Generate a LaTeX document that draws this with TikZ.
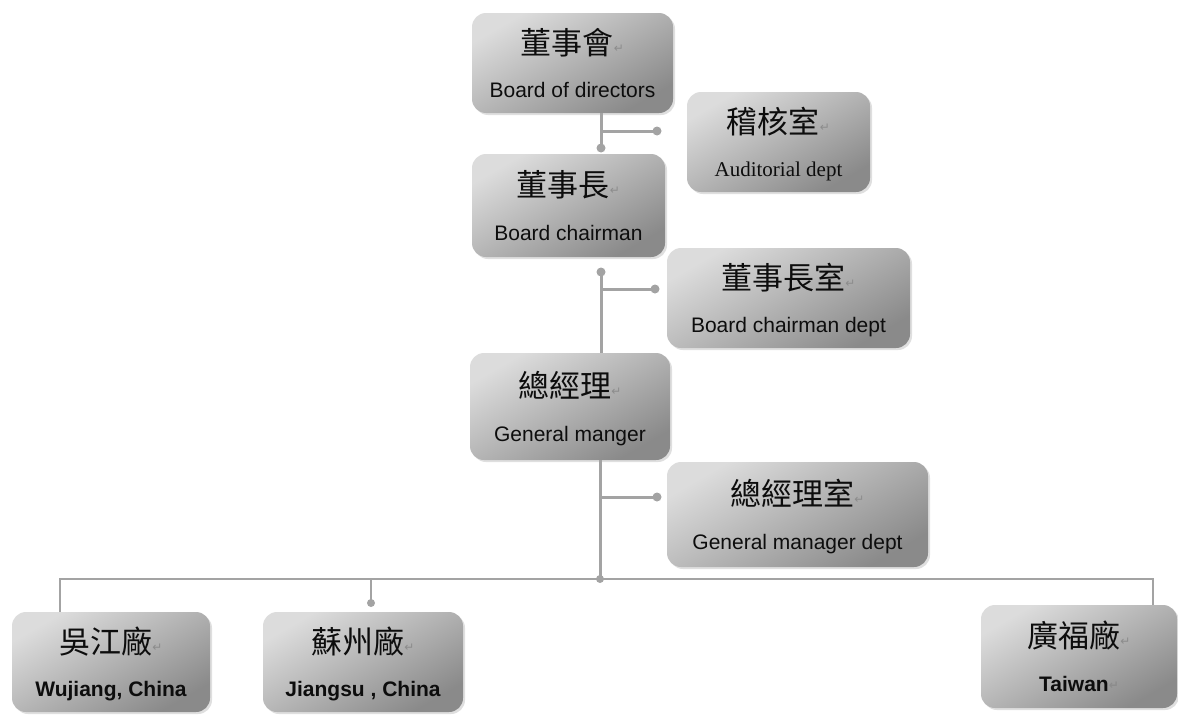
\documentclass[tikz,border=0pt]{standalone}
\usepackage{fontspec}
\setmainfont{Liberation Sans}
\newfontfamily\zhfont{Noto Sans CJK TC}
\newfontfamily\serfont{Liberation Serif}
\newfontfamily\symfont{DejaVu Sans}
\usetikzlibrary{shadows}
\definecolor{linegray}{HTML}{A3A3A3}
\definecolor{boxlight}{HTML}{DCDCDC}
\definecolor{boxdark}{HTML}{8A8A8A}
\newcommand{\retmark}{{\symfont\fontsize{12}{12}\selectfont\color{black!45}\raisebox{2pt}{↵}}}
\newcommand{\zhline}[1]{{\zhfont\fontsize{31}{43.5}\selectfont\rule{0pt}{30pt}#1}\retmark}
\newcommand{\enline}[1]{#1\rule[-4.5pt]{0pt}{4.5pt}}
\begin{document}
\begin{tikzpicture}[x=1pt,y=-1pt,
  box/.style={rounded corners=14pt, top color=boxlight, bottom color=boxdark,
    shading angle=30, align=center, inner sep=0pt, text=black!95,
    font=\fontsize{21}{43.5}\selectfont,
    drop shadow={shadow xshift=2pt, shadow yshift=-2pt, opacity=0.25}},
  conn/.style={draw=linegray, line width=3pt},
  thinconn/.style={draw=linegray, line width=2pt},
  jdot/.style={circle, fill=linegray, inner sep=0pt, minimum size=9pt}]
\useasboundingbox (0,0) rectangle (1178,715);

% boxes
\node[box, minimum width=201pt, minimum height=100pt] (bod) at (572.5,63)
  {\zhline{董事會}\\\enline{Board of directors}};
\node[box, minimum width=183pt, minimum height=100pt] (aud) at (778.5,142)
  {\zhline{稽核室}\\\enline{\serfont Auditorial dept}};
\node[box, minimum width=193pt, minimum height=103pt] (bch) at (568.5,205.5)
  {\zhline{董事長}\\\enline{Board chairman}};
\node[box, minimum width=243pt, minimum height=100pt] (bcd) at (788.5,298)
  {\zhline{董事長室}\\\enline{Board chairman dept}};
\node[box, minimum width=200pt, minimum height=107pt] (gm) at (570,406.5)
  {\zhline{總經理}\\\enline{General manger}};
\node[box, minimum width=261pt, minimum height=105pt] (gmd) at (797.5,514.5)
  {\zhline{總經理室}\\\enline{General manager dept}};
\node[box, minimum width=198pt, minimum height=100pt] (wj) at (111,662)
  {\zhline{吳江廠}\\\enline{\bfseries Wujiang, China}};
\node[box, minimum width=200pt, minimum height=100pt] (js) at (363,662)
  {\zhline{蘇州廠}\\\enline{\bfseries Jiangsu , China}};
\node[box, minimum width=196pt, minimum height=103pt] (tw) at (1079,656.5)
  {\zhline{廣福廠}\\\enline{\bfseries Taiwan\retmark}};

% junction coordinates
\coordinate (j1) at (601,148);
\coordinate (h1) at (657,131);
\coordinate (j2) at (601,272);
\coordinate (h2) at (655,289);
\coordinate (j3) at (600,579);
\coordinate (h3) at (657,497);
\coordinate (bl) at (60,579);
\coordinate (br) at (1153,579);
\coordinate (jd) at (371,603);

% connectors
\draw[conn] (bod.south -| j1) -- (j1);
\draw[conn] (j1 |- h1) -- (h1);
\draw[conn] (j2) -- (gm.north -| j2);
\draw[conn] (j2 |- h2) -- (h2);
\draw[conn] (gm.south -| j3) -- (j3);
\draw[conn] (j3 |- h3) -- (h3);
\draw[thinconn] (wj.north -| bl) -- (bl) -- (br) -- (tw.north -| br);
\draw[thinconn, line width=1.5pt] (jd |- bl) -- (jd);

% dots
\node[jdot] (d1) at (j1) {};
\node[jdot] (e1) at (h1) {};
\node[jdot] (d2) at (j2) {};
\node[jdot] (e2) at (h2) {};
\node[jdot, minimum size=8pt] (d3) at (j3) {};
\node[jdot] (e3) at (h3) {};
\node[jdot, minimum size=8pt] (dj) at (jd) {};
\end{tikzpicture}
\end{document}
